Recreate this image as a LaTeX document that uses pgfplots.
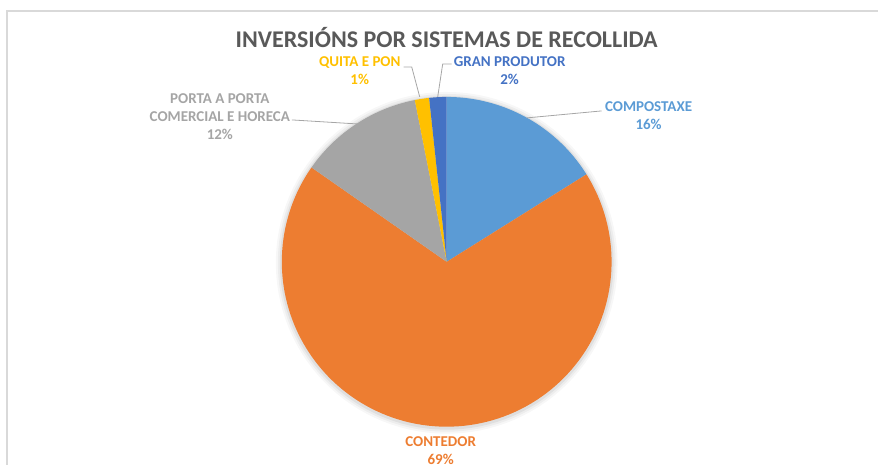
\documentclass[border=0pt]{standalone}
\usepackage{pgfplots}
\pgfplotsset{compat=1.18}
\usepackage{fontspec}
\setmainfont{Carlito}
\definecolor{cA}{HTML}{5B9BD5}
\definecolor{cB}{HTML}{ED7D31}
\definecolor{cC}{HTML}{A5A5A5}
\definecolor{cD}{HTML}{FFC000}
\definecolor{cE}{HTML}{4472C4}
\definecolor{ttl}{HTML}{595959}
\definecolor{lead}{HTML}{A6A6A6}
\definecolor{frm}{HTML}{D9D9D9}
% values (percent)
\def\vA{16.1}% COMPOSTAXE
\def\vB{68.6}% CONTEDOR
\def\vC{12.2}% PORTA A PORTA COMERCIAL E HORECA
\def\vD{1.4}% QUITA E PON
\def\vE{1.7}% GRAN PRODUTOR
\begin{document}
\begin{tikzpicture}
\pgfmathsetmacro{\aA}{90}
\pgfmathsetmacro{\aB}{\aA-3.6*\vA}
\pgfmathsetmacro{\aC}{\aB-3.6*\vB}
\pgfmathsetmacro{\aD}{\aC-3.6*\vC}
\pgfmathsetmacro{\aE}{\aD-3.6*\vD}
\pgfmathsetmacro{\aF}{\aE-3.6*\vE}
\begin{axis}[hide axis, scale only axis, width=879pt, height=465pt,
  xmin=0, xmax=879, ymin=-465, ymax=0, clip=false]
\addplot[draw=none] coordinates {(0,0) (879,-465)};
\addplot[draw=frm, line width=1.2pt] coordinates {(7,-465) (7,-11) (879,-11)};
% shadow
\foreach \r/\o in {171/0.03,169/0.04,167/0.06}{
 \edef\tmp{\noexpand\addplot[fill=black, draw=none, opacity=\o, domain=0:360, samples=120] ({447+\r*cos(x)},{-263+\r*sin(x)}) -- cycle;}
 \tmp
}
\addplot[fill=cA, draw=none, domain=\aB:\aA, samples=40] ({447+165*cos(x)},{-262+165*sin(x)}) -- (axis cs:447,-262) -- cycle;
\addplot[fill=cB, draw=none, domain=\aC:\aB, samples=120] ({447+165*cos(x)},{-262+165*sin(x)}) -- (axis cs:447,-262) -- cycle;
\addplot[fill=cC, draw=none, domain=\aD:\aC, samples=30] ({447+165*cos(x)},{-262+165*sin(x)}) -- (axis cs:447,-262) -- cycle;
\addplot[fill=cD, draw=none, domain=\aE:\aD, samples=8] ({447+165*cos(x)},{-262+165*sin(x)}) -- (axis cs:447,-262) -- cycle;
\addplot[fill=cE, draw=none, domain=\aF:\aE, samples=8] ({447+165*cos(x)},{-262+165*sin(x)}) -- (axis cs:447,-262) -- cycle;
% leader lines
\addplot[draw=lead, line width=0.8pt] coordinates {(527,-118) (602,-111)};
\addplot[draw=lead, line width=0.8pt] coordinates {(292,-120) (357,-124)};
\addplot[draw=lead, line width=0.8pt] coordinates {(404,-67) (412,-67) (420,-97)};
\addplot[draw=lead, line width=0.8pt] coordinates {(452,-64) (443,-64) (438,-97)};
% texts
\node[text=ttl, font=\fontsize{24}{28}\selectfont\bfseries] at (axis cs:447,-38) {INVERSIÓNS POR SISTEMAS DE RECOLLIDA};
\node[text=cA, align=center, font=\fontsize{15}{18}\selectfont\bfseries] at (axis cs:649,-116) {COMPOSTAXE\\16\%};
\node[text=cB, align=center, font=\fontsize{15}{18}\selectfont\bfseries] at (axis cs:441,-451) {CONTEDOR\\69\%};
\node[text=cC, align=center, font=\fontsize{15}{18}\selectfont\bfseries] at (axis cs:220,-117) {PORTA A PORTA\\COMERCIAL E HORECA\\12\%};
\node[text=cD, align=center, font=\fontsize{15}{18}\selectfont\bfseries] at (axis cs:360,-71) {QUITA E PON\\1\%};
\node[text=cE, align=center, font=\fontsize{15}{18}\selectfont\bfseries] at (axis cs:510,-71) {GRAN PRODUTOR\\2\%};
\end{axis}
\end{tikzpicture}
\end{document}
